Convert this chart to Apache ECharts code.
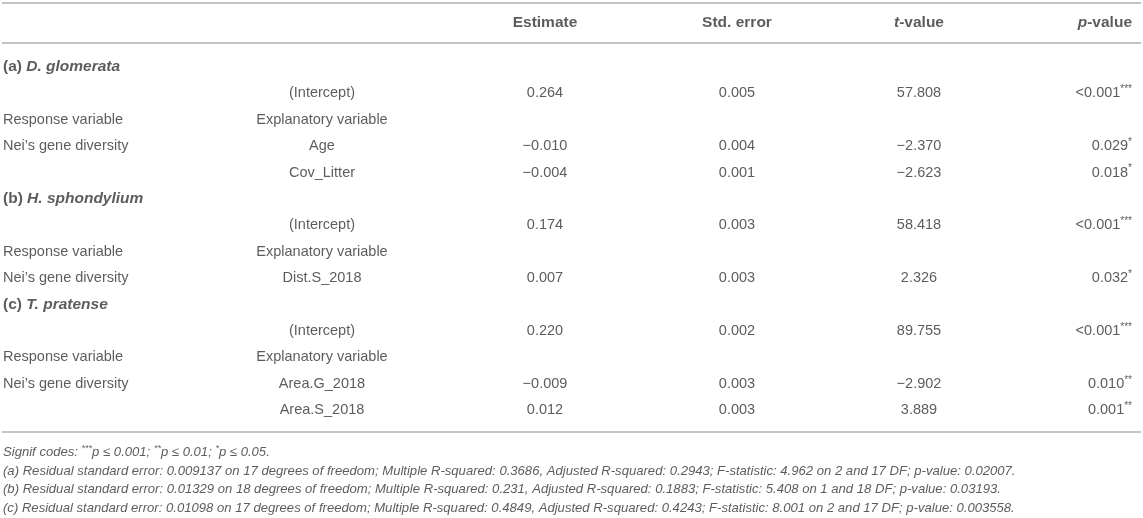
<!DOCTYPE html>
<html>
<head>
    <meta charset="utf-8">
    <title>Regression table</title>
    <script src="https://cdn.jsdelivr.net/npm/echarts@6/dist/echarts.min.js"></script>
    <style>
        html, body { margin: 0; padding: 0; background: #fff; }
    </style>
</head>
<body>
    <div id="main" style="width: 1143px;height:518px;"></div>
    <script type="text/javascript">
        // column headers
        var headers = ['Estimate', 'Std. error', 't-value', 'p-value'];

        // models
        var sectionTags = ['(a)', '(b)', '(c)'];
        var species = ['D. glomerata', 'H. sphondylium', 'T. pratense'];
        var responseVar = 'Nei\u2019s gene diversity';

        // coefficient rows
        var termModel = [0, 0, 0, 1, 1, 2, 2, 2];
        var termNames = ['(Intercept)', 'Age', 'Cov_Litter', '(Intercept)', 'Dist.S_2018', '(Intercept)', 'Area.G_2018', 'Area.S_2018'];
        var estimate = [0.264, -0.010, -0.004, 0.174, 0.007, 0.220, -0.009, 0.012];
        var stdError = [0.005, 0.004, 0.001, 0.003, 0.003, 0.002, 0.003, 0.003];
        var tValue = [57.808, -2.370, -2.623, 58.418, 2.326, 89.755, -2.902, 3.889];
        var pValue = ['<0.001', '0.029', '0.018', '<0.001', '0.032', '<0.001', '0.010', '0.001'];
        var signif = ['***', '*', '*', '***', '*', '***', '**', '**'];

        // model summaries (footnotes)
        var residSE = ['0.009137', '0.01329', '0.01098'];
        var residDF = [17, 18, 17];
        var rSquared = ['0.3686', '0.231', '0.4849'];
        var adjRSquared = ['0.2943', '0.1883', '0.4243'];
        var fStat = ['4.962', '5.408', '8.001'];
        var fDF1 = [2, 1, 2];
        var modelP = ['0.02007', '0.03193', '0.003558'];

        // layout
        var W = 1143;
        var colX = [3, 322, 545, 737, 919, 1132];
        var colAlign = ['left', 'center', 'center', 'center', 'center', 'right'];
        var FONT = "'Liberation Sans', Arial, Helvetica, sans-serif";
        var TXT = '#333';
        var RULE = '#c4c4c4';
        var rowH = 26.4, firstRow = 67;
        var noteH = 20.5, firstNote = 453;

        function fmt(v) {
            return v.toFixed(3).replace('-', '\u2212');
        }

        // build body rows -> cells [row, text] per column
        var cells = [[], [], [], [], [], []];
        var r = 0;
        sectionTags.forEach(function (tag, m) {
            cells[0].push([r, '{b|' + tag + ' }{bi|' + species[m] + '}']);
            r++;
            var first = true;
            termModel.forEach(function (mm, k) {
                if (mm !== m) return;
                if (termNames[k] === '(Intercept)') {
                    pushTerm(k, r, null);
                    r++;
                    cells[0].push([r, 'Response variable']);
                    cells[1].push([r, 'Explanatory variable']);
                    r++;
                } else {
                    pushTerm(k, r, first ? responseVar : null);
                    first = false;
                    r++;
                }
            });
        });
        var nRows = r;

        function pushTerm(k, row, resp) {
            if (resp) cells[0].push([row, resp]);
            cells[1].push([row, termNames[k]]);
            cells[2].push([row, fmt(estimate[k])]);
            cells[3].push([row, fmt(stdError[k])]);
            cells[4].push([row, fmt(tValue[k])]);
            cells[5].push([row, pValue[k] + '{sup|' + signif[k] + '}']);
        }

        var notes = ['{i|Signif codes: }{s|***}{i|p \u2264 0.001; }{s|**}{i|p \u2264 0.01; }{s|*}{i|p \u2264 0.05.}'];
        sectionTags.forEach(function (tag, m) {
            notes.push('{i|' + tag + ' Residual standard error: ' + residSE[m] + ' on ' + residDF[m] +
                ' degrees of freedom; Multiple R-squared: ' + rSquared[m] + ', Adjusted R-squared: ' + adjRSquared[m] +
                '; F-statistic: ' + fStat[m] + ' on ' + fDF1[m] + ' and ' + residDF[m] + ' DF; p-value: ' + modelP[m] + '.}');
        });

        var headerText = headers.map(function (h) {
            var m = /^([tp])(-.*)$/.exec(h);
            return m ? '{bi|' + m[1] + '}{b|' + m[2] + '}' : '{b|' + h + '}';
        });

        var rich = {
            b: { fontFamily: FONT, fontSize: 15.5, fontWeight: 'bold', color: TXT, lineHeight: 18 },
            bi: { fontFamily: FONT, fontSize: 15.5, fontWeight: 'bold', fontStyle: 'italic', color: TXT, lineHeight: 18 },
            sup: { fontFamily: FONT, fontSize: 10, color: TXT, verticalAlign: 'top', lineHeight: 10 },
            i: { fontFamily: FONT, fontSize: 13.1, fontStyle: 'italic', color: TXT, lineHeight: 16 },
            s: { fontFamily: FONT, fontSize: 9, fontStyle: 'italic', color: TXT, verticalAlign: 'top', lineHeight: 9 }
        };

        function textSeries(grid, col, align, data) {
            return {
                type: 'scatter',
                xAxisIndex: grid,
                yAxisIndex: grid,
                symbolSize: 1,
                itemStyle: { color: 'rgba(0,0,0,0)' },
                silent: true,
                data: data.map(function (d) { return { value: [colX[col], d[0]], text: d[1] }; }),
                label: {
                    show: true,
                    position: 'inside',
                    align: align,
                    verticalAlign: 'middle',
                    fontFamily: FONT,
                    fontSize: 14.5,
                    color: TXT,
                    lineHeight: 18,
                    rich: rich,
                    formatter: function (p) { return p.data.text; }
                }
            };
        }

        var series = [];
        // header row
        headerText.forEach(function (h, i) {
            series.push(textSeries(0, i + 2, colAlign[i + 2], [[0, h]]));
        });
        // body
        cells.forEach(function (c, i) {
            series.push(textSeries(1, i, colAlign[i], c));
        });
        // footnotes
        series.push(textSeries(2, 0, 'left', notes.map(function (n, i) { return [i, n]; })));

        function idx(n) { var a = []; for (var i = 0; i < n; i++) a.push(i); return a; }
        function xAx(g) { return { type: 'value', gridIndex: g, min: 0, max: W, show: false }; }
        function yAx(g, n) { return { type: 'category', gridIndex: g, data: idx(n), inverse: true, show: false }; }

        var myChart = echarts.init(document.getElementById('main'));
        myChart.setOption({
            animation: false,
            grid: [
                { left: 0, width: W, top: 3, height: 40 },
                { left: 0, width: W, top: firstRow - rowH / 2, height: rowH * nRows },
                { left: 0, width: W, top: firstNote - noteH / 2, height: noteH * notes.length }
            ],
            xAxis: [xAx(0), xAx(1), xAx(2)],
            yAxis: [yAx(0, 1), yAx(1, nRows), yAx(2, notes.length)],
            graphic: [3, 43, 432].map(function (y) {
                return {
                    type: 'line',
                    silent: true,
                    shape: { x1: 2, y1: y, x2: W - 2, y2: y },
                    style: { stroke: RULE, lineWidth: 2 }
                };
            }),
            series: series
        });
    </script>
</body>
</html>
